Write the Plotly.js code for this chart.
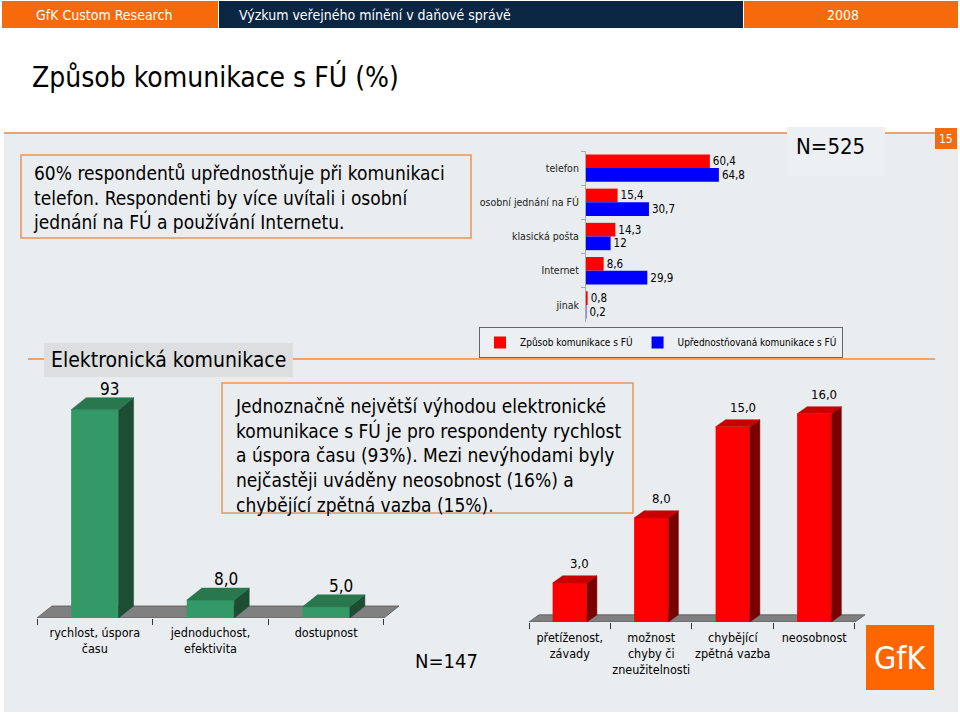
<!DOCTYPE html>
<html><head><meta charset="utf-8">
<script src="https://cdn.plot.ly/plotly-3.0.1.min.js"></script>
<style>html,body{margin:0;padding:0;background:#fff;}#chart{width:960px;height:716px;}</style>
</head><body><div id="chart"></div>
<script>
// ---- top chart data ----
const channelCats = ['telefon', 'osobní jednání na FÚ', 'klasická pošta', 'Internet', 'jinak'];
const usedValues = [60.4, 15.4, 14.3, 8.6, 0.8];
const preferredValues = [64.8, 30.7, 12, 29.9, 0.2];
const seriesNames = ['Způsob komunikace s FÚ', 'Upřednostňovaná komunikace s FÚ'];

// ---- bottom-left (advantages) ----
const advCats = ['rychlost, úspora<br>času', 'jednoduchost,<br>efektivita', 'dostupnost'];
const advValues = [93, 8, 5];
const advLabels = ['93', '8,0', '5,0'];

// ---- bottom-right (disadvantages) ----
const disCats = ['přetíženost,<br>závady', 'možnost<br>chyby či<br>zneužitelnosti', 'chybějící<br>zpětná vazba', 'neosobnost'];
const disValues = [3, 8, 15, 16];
const disLabels = ['3,0', '8,0', '15,0', '16,0'];

const F = 'Tahoma, "DejaVu Sans Condensed", "DejaVu Sans", sans-serif';
const W = 960, H = 716;
const px = x => x / W, py = y => 1 - y / H;
const fmt = v => String(v).replace('.', ',');

// 3D geometry (in axis units)
const G = {dx: 0.13, dy: 5.36, w: 0.41, front: '#339966', side: '#1D4D33', top: '#28774D'};
const R = {dx: 0.123, dy: 0.55, w: 0.42, front: '#FF0000', side: '#7A0000', top: '#C80000'};

function faces(values, g, xa, ya) {
  const sx = [], sy = [], tx = [], ty = [];
  values.forEach((v, i) => {
    const l = i - g.w / 2, r = i + g.w / 2;
    sx.push(r, r + g.dx, r + g.dx, r, r, null);
    sy.push(0, g.dy, v + g.dy, v, 0, null);
    tx.push(l, r, r + g.dx, l + g.dx, l, null);
    ty.push(v, v, v + g.dy, v + g.dy, v, null);
  });
  const base = {type: 'scatter', mode: 'lines', fill: 'toself', showlegend: false, hoverinfo: 'skip', xaxis: xa, yaxis: ya};
  return [
    Object.assign({}, base, {x: sx, y: sy, fillcolor: g.side, line: {color: g.side, width: 0.5}}),
    Object.assign({}, base, {x: tx, y: ty, fillcolor: g.top, line: {color: g.top, width: 0.5}})
  ];
}

const advIdx = advCats.map((_, i) => i);
const disIdx = disCats.map((_, i) => i);

const traces = [
  {type: 'bar', orientation: 'h', y: channelCats, x: usedValues, name: seriesNames[0],
   marker: {color: '#FF0000'}, text: usedValues.map(fmt), textposition: 'outside', constraintext: 'none',
   textfont: {family: F, size: 11.5, color: '#000'}, cliponaxis: false, xaxis: 'x', yaxis: 'y', hoverinfo: 'skip'},
  {type: 'bar', orientation: 'h', y: channelCats, x: preferredValues, name: seriesNames[1],
   marker: {color: '#0000FF'}, text: preferredValues.map(fmt), textposition: 'outside', constraintext: 'none',
   textfont: {family: F, size: 11.5, color: '#000'}, cliponaxis: false, xaxis: 'x', yaxis: 'y', hoverinfo: 'skip'},
  {type: 'bar', x: advIdx, y: advValues, width: G.w, marker: {color: G.front}, showlegend: false,
   xaxis: 'x2', yaxis: 'y2', hoverinfo: 'skip'},
  ...faces(advValues, G, 'x2', 'y2'),
  {type: 'bar', x: disIdx, y: disValues, width: R.w, marker: {color: R.front}, showlegend: false,
   xaxis: 'x3', yaxis: 'y3', hoverinfo: 'skip'},
  ...faces(disValues, R, 'x3', 'y3')
];

const orange = '#F76A0C', lineOr = '#EEA26E';
const shapes = [
  {type: 'rect', xref: 'paper', yref: 'paper', x0: px(2), x1: px(218), y0: py(28), y1: py(1), fillcolor: orange, line: {width: 0}, layer: 'below'},
  {type: 'rect', xref: 'paper', yref: 'paper', x0: px(219), x1: px(743), y0: py(28), y1: py(1), fillcolor: '#0B2643', line: {width: 0}, layer: 'below'},
  {type: 'rect', xref: 'paper', yref: 'paper', x0: px(744), x1: px(958), y0: py(28), y1: py(1), fillcolor: orange, line: {width: 0}, layer: 'below'},
  {type: 'rect', xref: 'paper', yref: 'paper', x0: px(4), x1: px(958), y0: py(712), y1: py(134), fillcolor: '#E9EDEF', line: {width: 0}, layer: 'below'},
  {type: 'rect', xref: 'paper', yref: 'paper', x0: px(787), x1: px(885), y0: py(176), y1: py(127), fillcolor: '#EDF0F2', line: {width: 0}, layer: 'below'},
  {type: 'line', xref: 'paper', yref: 'paper', x0: px(4), x1: px(787), y0: py(133), y1: py(133), line: {color: lineOr, width: 2}, layer: 'below'},
  {type: 'line', xref: 'paper', yref: 'paper', x0: px(885), x1: px(935), y0: py(133), y1: py(133), line: {color: lineOr, width: 2}, layer: 'below'},
  {type: 'rect', xref: 'paper', yref: 'paper', x0: px(935), x1: px(957), y0: py(149), y1: py(128), fillcolor: '#F26B0F', line: {width: 0}, layer: 'below'},
  {type: 'rect', xref: 'paper', yref: 'paper', x0: px(21), x1: px(471), y0: py(238), y1: py(155), line: {color: '#E5955E', width: 1.5}, layer: 'below'},
  {type: 'line', xref: 'paper', yref: 'paper', x0: px(28), x1: px(935), y0: py(359), y1: py(359), line: {color: lineOr, width: 2}, layer: 'below'},
  {type: 'rect', xref: 'paper', yref: 'paper', x0: px(44), x1: px(293), y0: py(377), y1: py(343), fillcolor: '#DCDEE0', line: {width: 0}, layer: 'below'},
  {type: 'rect', xref: 'paper', yref: 'paper', x0: px(222), x1: px(633), y0: py(513), y1: py(383), line: {color: '#E5955E', width: 1.5}, layer: 'below'},
  {type: 'rect', xref: 'paper', yref: 'paper', x0: px(866), x1: px(934), y0: py(690), y1: py(625), fillcolor: '#FF6600', line: {width: 0}, layer: 'below'},
  // floors
  {type: 'path', xref: 'x2', yref: 'y2', layer: 'below',
   path: `M -0.5,0 L ${advCats.length - 0.5},0 L ${advCats.length - 0.5 + G.dx},${G.dy} L ${-0.5 + G.dx},${G.dy} Z`,
   fillcolor: '#808080', line: {color: '#555', width: 0.8}},
  {type: 'path', xref: 'x3', yref: 'y3', layer: 'below',
   path: `M -0.5,0 L ${disCats.length - 0.5},0 L ${disCats.length - 0.5 + R.dx},${R.dy} L ${-0.5 + R.dx},${R.dy} Z`,
   fillcolor: '#808080', line: {color: '#555', width: 0.8}}
];

const ann = (x, y, text, size, opts) => Object.assign({xref: 'paper', yref: 'paper', x: px(x), y: py(y), text: text,
  showarrow: false, font: {family: F, size: size, color: '#000'}, xanchor: 'center', yanchor: 'middle'}, opts || {});

const annotations = [
  ann(34, 15, 'GfK Custom Research', 14, {xanchor: 'left', font: {family: F, size: 14, color: '#FFFFFF'}}),
  ann(237, 15, 'Výzkum veřejného mínění v daňové správě', 14, {xanchor: 'left', font: {family: F, size: 14, color: '#FFFFFF'}}),
  ann(843, 15, '2008', 14, {font: {family: F, size: 14, color: '#FFFFFF'}}),
  ann(30, 77, 'Způsob komunikace s FÚ (%)', 28, {xanchor: 'left'}),
  ann(31, 197, '60% respondentů upřednostňuje při komunikaci<br>telefon. Respondenti by více uvítali i osobní<br>jednání na FÚ a používání Internetu.', 19, {xanchor: 'left', align: 'left'}),
  ann(830, 146, 'N=525', 22),
  ann(946, 139, '15', 12, {font: {family: F, size: 12, color: '#FFFFFF'}}),
  ann(168, 360, 'Elektronická komunikace', 21),
  ann(233, 455, 'Jednoznačně největší výhodou elektronické<br>komunikace s FÚ je pro respondenty rychlost<br>a úspora času (93%). Mezi nevýhodami byly<br>nejčastěji uváděny neosobnost (16%) a<br>chybějící zpětná vazba (15%).', 19, {xanchor: 'left', align: 'left'}),
  ann(446, 661, 'N=147', 20),
  ann(900, 658, 'GfK', 32, {font: {family: F, size: 32, color: '#FFFFFF'}})
];
advValues.forEach((v, i) => annotations.push({xref: 'x2', yref: 'y2', x: i + G.dx, y: v + G.dy, text: advLabels[i],
  showarrow: false, yanchor: 'bottom', yshift: -3, font: {family: F, size: 17, color: '#000'}}));
disValues.forEach((v, i) => annotations.push({xref: 'x3', yref: 'y3', x: i + R.dx, y: v + R.dy, text: disLabels[i],
  showarrow: false, yanchor: 'bottom', yshift: 3, font: {family: F, size: 13, color: '#000'}}));

const layout = {
  width: W, height: H, margin: {l: 0, r: 0, t: 0, b: 0},
  paper_bgcolor: '#FFFFFF', plot_bgcolor: 'rgba(0,0,0,0)',
  barmode: 'group', bargap: 0.2, bargroupgap: 0,
  font: {family: F, color: '#000'},
  showlegend: true,
  legend: {orientation: 'h', x: px(661), y: py(327), xanchor: 'center', yanchor: 'top',
    bgcolor: '#EDF0F2', bordercolor: '#666', borderwidth: 1, font: {family: F, size: 10, color: '#000'},
    itemwidth: 30, tracegroupgap: 0},
  xaxis: {domain: [px(586), px(780)], range: [0, 94.6], visible: false, fixedrange: true},
  yaxis: {domain: [py(322), py(151)], type: 'category', autorange: 'reversed', anchor: 'x',
    showline: true, linecolor: '#AAA', linewidth: 1, ticks: 'outside', tickson: 'boundaries', ticklen: 4, tickcolor: '#AAA',
    ticklabelstandoff: 4,
    showgrid: false, zeroline: false, tickfont: {family: F, size: 10.5, color: '#222'}},
  xaxis2: {domain: [px(37), px(399)], range: [-0.5, advCats.length - 0.5 + G.dx], anchor: 'y2',
    tickmode: 'array', tickvals: advIdx, ticktext: advCats, ticks: '', tickangle: 0, showgrid: false, zeroline: false, showline: false,
    ticklabelstandoff: 5,
    minor: {tickmode: 'array', tickvals: [-0.5, 0.5, 1.5, 2.5], ticks: 'outside', ticklen: 6, tickcolor: '#333', showgrid: false},
    tickfont: {family: F, size: 12.5, color: '#000'}},
  yaxis2: {domain: [py(618), py(380)], range: [0, 106.25], visible: false, anchor: 'x2'},
  xaxis3: {domain: [px(529), px(865)], range: [-0.5, disCats.length - 0.5 + R.dx], anchor: 'y3',
    tickmode: 'array', tickvals: disIdx, ticktext: disCats, ticks: '', tickangle: 0, showgrid: false, zeroline: false, showline: false,
    ticklabelstandoff: 6,
    minor: {tickmode: 'array', tickvals: [-0.5, 0.5, 1.5, 2.5, 3.5], ticks: 'outside', ticklen: 6, tickcolor: '#333', showgrid: false},
    tickfont: {family: F, size: 12.5, color: '#000'}},
  yaxis3: {domain: [py(622), py(380)], range: [0, 18.6], visible: false, anchor: 'x3'},
  shapes: shapes,
  annotations: annotations
};

Plotly.newPlot('chart', traces, layout, {displayModeBar: false, staticPlot: true});
</script></body></html>
